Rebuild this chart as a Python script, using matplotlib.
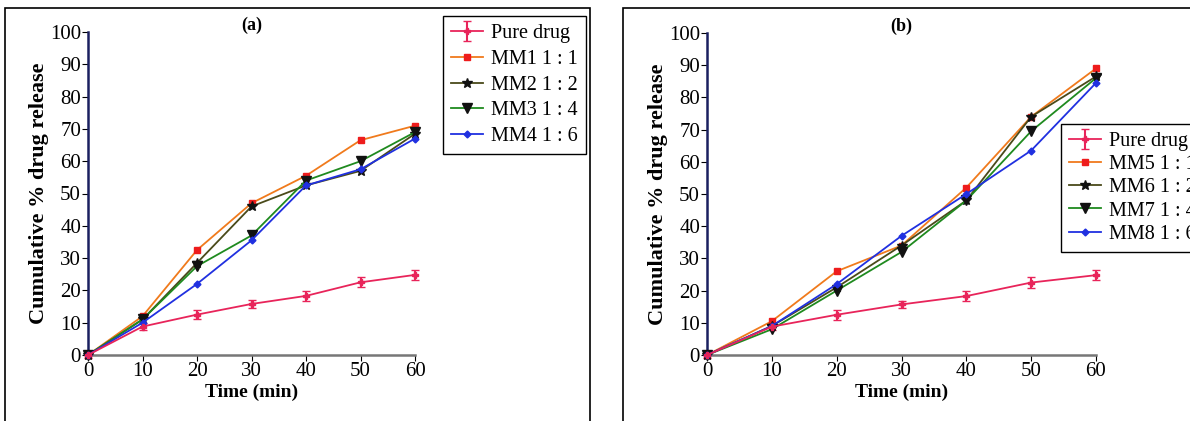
import matplotlib.pyplot as plt
from matplotlib.patches import Rectangle
import numpy as np

plt.rcParams['font.family'] = ['Liberation Serif', 'DejaVu Serif']

time = [0, 10, 20, 30, 40, 50, 60]

# panel (a)
pure_a = [0, 8.8, 12.5, 15.8, 18.3, 22.5, 24.8]
mm1 = [0, 12, 32.5, 47, 55.5, 66.5, 71]
mm2 = [0, 11, 28.5, 46, 52.5, 57, 68.5]
mm3 = [0, 11, 27.5, 37, 54, 60, 69]
mm4 = [0, 10, 22, 35.5, 52.5, 57.5, 67]

# panel (b)
pure_b = [0, 8.8, 12.5, 15.7, 18.3, 22.5, 24.8]
mm5 = [0, 10.5, 26, 34, 52, 74, 89]
mm6 = [0, 9, 21, 34, 48, 74, 86.5]
mm7 = [0, 8, 20, 32, 48, 69.5, 86]
mm8 = [0, 9, 22, 37, 50, 63.5, 84.5]

pure_err = [0.8, 1.0, 1.5, 1.2, 1.5, 1.6, 1.5]

labels_a = ['Pure drug', 'MM1 1 : 1', 'MM2 1 : 2', 'MM3 1 : 4', 'MM4 1 : 6']
labels_b = ['Pure drug', 'MM5 1 : 1', 'MM6 1 : 2', 'MM7 1 : 4', 'MM8 1 : 6']

# line colour, marker, marker colour, marker size
styles = [
    ('#e8245a', 'P', '#e8245a', 4),
    ('#f07a1c', 's', '#ee1c1c', 5),
    ('#4a4a1a', '*', '#111111', 7),
    ('#1f8a1f', 'v', '#111111', 7),
    ('#2030e0', 'D', '#2030e0', 3.5),
]

fig = plt.figure(figsize=(11.9, 4.21), dpi=100)

# panel frames
fig.patches.append(Rectangle((5/1190, -0.02), 585/1190, 1 - 8/421 + 0.02,
                             transform=fig.transFigure, fill=False, ec='black', lw=1.2))
fig.patches.append(Rectangle((623/1190, -0.02), 0.5, 1 - 8/421 + 0.02,
                             transform=fig.transFigure, fill=False, ec='black', lw=1.2))

ax_a = fig.add_axes([88/1190, 1 - 355/421, 327/1190, 323/421])
ax_b = fig.add_axes([707/1190, 1 - 355/421, 389/1190, 322/421])


def draw(ax, series, labels, title, leg_xy, spacing):
    handles = []
    for i, (y, lab) in enumerate(zip(series, labels)):
        lc, mk, mc, ms = styles[i]
        if i == 0:
            h = ax.errorbar(time, y, yerr=pure_err, color=lc, marker=mk, ms=ms,
                            mfc=mc, mec=mc, lw=1.3, elinewidth=1.5, capsize=3,
                            label=lab, clip_on=False, zorder=3)
        else:
            h, = ax.plot(time, y, color=lc, marker=mk, ms=ms, mfc=mc, mec=mc,
                         lw=1.3, label=lab, clip_on=False, zorder=3)
        handles.append(h)
    ax.set_xlim(0, 60)
    ax.set_ylim(0, 100)
    ax.set_xticks(time)
    ax.set_yticks(range(0, 101, 10))
    ax.tick_params(labelsize=15, direction='out', length=4, pad=1)
    for s in ['top', 'right']:
        ax.spines[s].set_visible(False)
    ax.spines['left'].set_color('#1a2060')
    ax.spines['left'].set_linewidth(1.8)
    ax.spines['bottom'].set_color('#777777')
    ax.spines['bottom'].set_linewidth(1.8)
    ax.set_xlabel('Time (min)', fontsize=14, fontweight='bold', labelpad=2)
    ax.set_ylabel('Cumulative % drug release', fontsize=16, fontweight='bold', labelpad=1)
    ax.text(0.5, 1.022, title, transform=ax.transAxes, ha='center', va='center',
            fontsize=13, fontweight='bold')
    ax.legend(handles=handles, loc='upper left', bbox_to_anchor=leg_xy,
              bbox_transform=fig.transFigure, fontsize=14.5, frameon=True,
              fancybox=False, edgecolor='black', framealpha=1,
              handlelength=1.6, handletextpad=0.4, labelspacing=spacing,
              borderpad=0.4, borderaxespad=0)


draw(ax_a, [pure_a, mm1, mm2, mm3, mm4], labels_a, '(a)', (443/1190, 1 - 16/421), 0.33)
draw(ax_b, [pure_b, mm5, mm6, mm7, mm8], labels_b, '(b)', (1061/1190, 1 - 124/421), 0.2)

fig.savefig('out.png', dpi=100)
